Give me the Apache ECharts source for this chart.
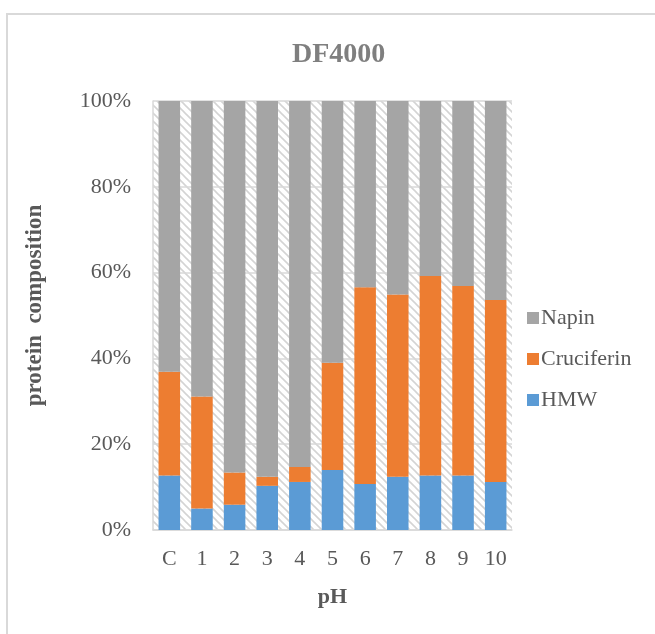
<!DOCTYPE html>
<html>
<head>
<meta charset="utf-8">
<script src="https://cdn.jsdelivr.net/npm/echarts@6/dist/echarts.min.js"></script>
<style>html,body{margin:0;padding:0;background:#fff;}#c{width:655px;height:634px;}</style>
</head>
<body>
<div id="c"></div>
<script>
var categories = ['C','1','2','3','4','5','6','7','8','9','10'];
var hmw = [12.7, 5.0, 5.9, 10.3, 11.2, 14.0, 10.7, 12.4, 12.7, 12.7, 11.2];
var cruciferin = [24.2, 26.1, 7.5, 2.1, 3.5, 25.0, 45.9, 42.5, 46.5, 44.2, 42.4];
var napin = [63.1, 68.9, 86.6, 87.6, 85.3, 61.0, 43.4, 45.1, 40.8, 43.1, 46.4];
var yTicks = [0, 20, 40, 60, 80, 100];

var pc = document.createElement('canvas');
pc.width = 8; pc.height = 8;
var g = pc.getContext('2d');
g.fillStyle = '#ffffff'; g.fillRect(0,0,8,8);
g.strokeStyle = '#d4d4d4'; g.lineWidth = 1.6;
g.beginPath(); g.moveTo(-1,-1); g.lineTo(9,9); g.stroke();
g.beginPath(); g.moveTo(-1,7); g.lineTo(1,9); g.stroke();
g.beginPath(); g.moveTo(7,-1); g.lineTo(9,1); g.stroke();

var font = '"Liberation Serif", "Times New Roman", serif';
var chart = echarts.init(document.getElementById('c'));
chart.setOption({
  backgroundColor: '#ffffff',
  animation: false,
  graphic: [{
    type: 'rect', shape: {x: 7, y: 14, width: 800, height: 800},
    style: {fill: null, stroke: '#d9d9d9', lineWidth: 2}, silent: true
  }],
  title: {
    text: 'DF4000', left: 287, top: 36,
    textStyle: {fontFamily: font, fontSize: 28, fontWeight: 'bold', color: '#7f7f7f'}
  },
  legend: {
    orient: 'vertical', left: 522, top: 302,
    data: ['Napin', 'Cruciferin', 'HMW'],
    itemWidth: 12, itemHeight: 12, itemGap: 19, icon: 'rect',
    textStyle: {fontFamily: font, fontSize: 22, color: '#595959', padding: [0,0,0,-3]}
  },
  grid: {
    left: 153, top: 101, width: 359, height: 429,
    show: true, backgroundColor: {image: pc, repeat: 'repeat'}, borderWidth: 0
  },
  xAxis: {
    type: 'category', data: categories,
    name: 'pH', nameLocation: 'middle', nameGap: 56,
    nameTextStyle: {fontFamily: font, fontSize: 22, fontWeight: 'bold', color: '#595959'},
    axisLine: {lineStyle: {color: '#d9d9d9', width: 1.5}},
    axisTick: {show: false},
    axisLabel: {fontFamily: font, fontSize: 22, color: '#595959', margin: 18}
  },
  yAxis: {
    type: 'value', min: 0, max: 100, interval: 20,
    name: 'protein  composition', nameLocation: 'middle', nameGap: 106, nameRotate: 90,
    nameTextStyle: {fontFamily: font, fontSize: 23, fontWeight: 'bold', color: '#595959', padding: [0,0,0,20]},
    axisLine: {show: true, lineStyle: {color: '#d9d9d9', width: 1.5}},
    axisTick: {show: false},
    splitLine: {lineStyle: {color: '#d9d9d9', width: 1.5}},
    axisLabel: {fontFamily: font, fontSize: 22, color: '#595959', margin: 22,
      formatter: function (v) { return yTicks.indexOf(v) >= 0 ? v + '%' : ''; }}
  },
  series: [
    {name: 'HMW', type: 'bar', stack: 'a', data: hmw, barWidth: '66%', itemStyle: {color: '#5b9bd5'}},
    {name: 'Cruciferin', type: 'bar', stack: 'a', data: cruciferin, itemStyle: {color: '#ed7d31'}},
    {name: 'Napin', type: 'bar', stack: 'a', data: napin, itemStyle: {color: '#a5a5a5'}}
  ]
});
</script>
</body>
</html>
